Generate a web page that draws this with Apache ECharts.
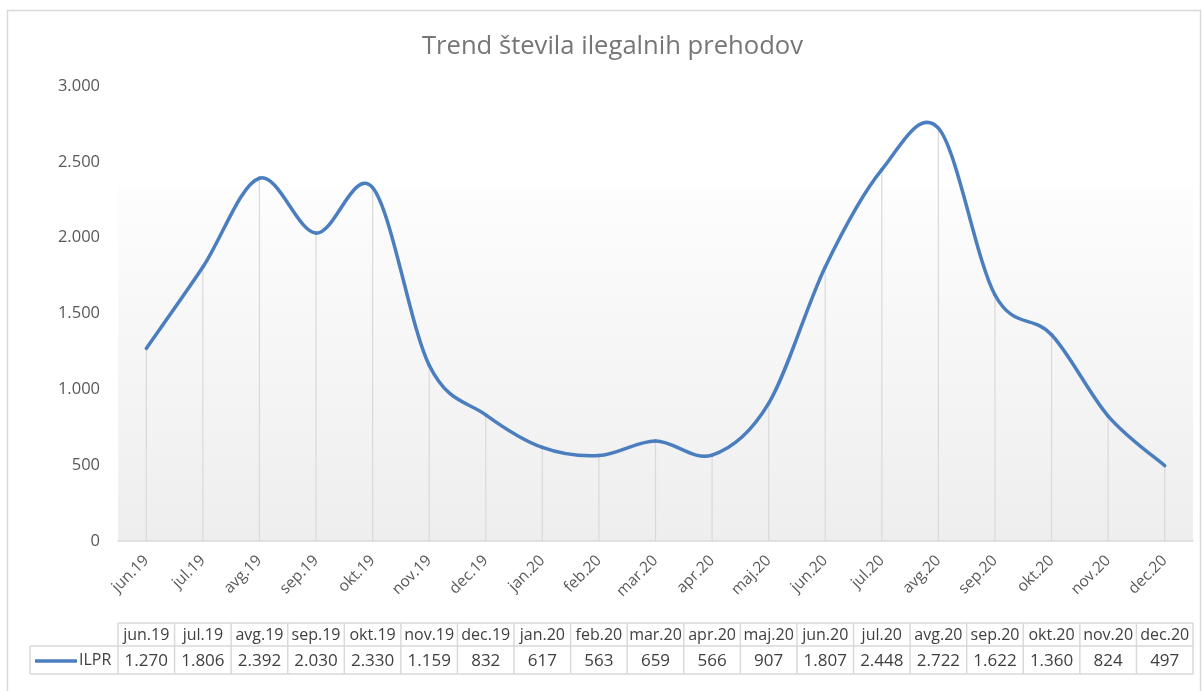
<!DOCTYPE html>
<html>
<head>
<meta charset="utf-8">
<script src="https://cdn.jsdelivr.net/npm/echarts@6/dist/echarts.min.js"></script>
<style>
html,body{margin:0;padding:0;background:#fff;}
#c{width:1203px;height:691px;}
</style>
</head>
<body>
<div id="c"></div>
<script>
const titleText = 'Trend števila ilegalnih prehodov';
const seriesName = 'ILPR';
const categories = ['jun.19','jul.19','avg.19','sep.19','okt.19','nov.19','dec.19','jan.20','feb.20','mar.20','apr.20','maj.20','jun.20','jul.20','avg.20','sep.20','okt.20','nov.20','dec.20'];
const values = [1270,1806,2392,2030,2330,1159,832,617,563,659,566,907,1807,2448,2722,1622,1360,824,497];
const yMin = 0, yMax = 3000, yStep = 500;

const fmt = v => String(v).replace(/\B(?=(\d{3})+(?!\d))/g, '.');
const FONT = '"Open Sans", "Noto Sans", sans-serif';
const LINE_COLOR = '#4a7ebf';
const GRID_COLOR = '#d9d9d9';

const chart = echarts.init(document.getElementById('c'), null, {renderer: 'canvas'});
const grid = {left: 118, right: 10, top: 86, bottom: 150};

// Smooth curve segment i -> i+1 (Catmull-Rom style, like spreadsheet smoothing)
function renderSegment(params, api) {
  const i = params.dataIndex;
  if (i >= values.length - 1) return null;
  const n = values.length;
  const P = k => { const j = Math.max(0, Math.min(n - 1, k)); return api.coord([j, values[j]]); };
  const p0 = P(i - 1), p1 = P(i), p2 = P(i + 1), p3 = P(i + 2);
  const t = 1 / 6;
  const c1 = [p1[0] + (p2[0] - p0[0]) * t, p1[1] + (p2[1] - p0[1]) * t];
  const c2 = [p2[0] - (p3[0] - p1[0]) * t, p2[1] - (p3[1] - p1[1]) * t];
  return {
    type: 'bezierCurve',
    shape: {x1: p1[0], y1: p1[1], x2: p2[0], y2: p2[1], cpx1: c1[0], cpy1: c1[1], cpx2: c2[0], cpy2: c2[1]},
    style: {stroke: LINE_COLOR, lineWidth: 3.5, fill: null, lineCap: 'round'}
  };
}

chart.setOption({
  backgroundColor: '#fff',
  animation: false,
  title: {
    text: titleText, left: 417, top: 29,
    textStyle: {fontFamily: FONT, fontSize: 25.6, fontWeight: 'normal', color: '#767676'}
  },
  grid: grid,
  xAxis: {
    type: 'category', data: categories, boundaryGap: true,
    axisLine: {lineStyle: {color: GRID_COLOR, width: 1.5}},
    axisTick: {show: false},
    axisLabel: {rotate: 45, color: '#595959', fontFamily: FONT, fontSize: 15.5, margin: 17, interval: 0}
  },
  yAxis: {
    type: 'value', min: yMin, max: yMax, interval: yStep,
    axisLine: {show: false}, axisTick: {show: false},
    splitLine: {show: false},
    axisLabel: {color: '#595959', fontFamily: FONT, fontSize: 16.5, margin: 18, formatter: v => fmt(v)}
  },
  series: [
    {
      type: 'bar', data: values, barWidth: 1.2, silent: true, z: 1,
      itemStyle: {color: GRID_COLOR}
    },
    {
      name: seriesName, type: 'custom', data: values, renderItem: renderSegment, z: 3, silent: true
    }
  ]
});

const xs = categories.map((c, i) => chart.convertToPixel({xAxisIndex: 0}, i));
const step = xs.length > 1 ? xs[1] - xs[0] : 56;
const left = xs[0] - step / 2;
const right = xs[xs.length - 1] + step / 2;
const y0 = chart.convertToPixel({yAxisIndex: 0}, yMin);
const gradTop = chart.convertToPixel({yAxisIndex: 0}, 2335);

const hTop = 623, hMid = 646, hBot = 674, legLeft = 30;
const g = [];
g.push({
  type: 'rect', z: -1, silent: true,
  shape: {x: left, y: gradTop, width: right - left, height: y0 - gradTop},
  style: {fill: new echarts.graphic.LinearGradient(0, 0, 0, 1, [{offset: 0, color: '#fdfdfd'}, {offset: 1, color: '#eeeeee'}])}
});
g.push({
  type: 'rect', silent: true,
  shape: {x: 7.5, y: 10.5, width: 1193, height: 690},
  style: {fill: null, stroke: GRID_COLOR, lineWidth: 1.5}
});
const L = (x1, y1, x2, y2) => g.push({type: 'line', silent: true, shape: {x1, y1, x2, y2}, style: {stroke: GRID_COLOR, lineWidth: 1.5}});
L(left, hTop, right, hTop);
L(legLeft, hMid, right, hMid);
L(legLeft, hBot, right, hBot);
L(legLeft, hMid, legLeft, hBot);
for (let i = 0; i <= categories.length; i++) {
  const x = left + i * step;
  L(x, hTop, x, hBot);
}
categories.forEach((c, i) => {
  g.push({type: 'text', silent: true, style: {text: c, x: xs[i], y: (hTop + hMid) / 2 + 1, align: 'center', verticalAlign: 'middle', fontFamily: FONT, fontSize: 16, fill: '#404040'}});
  g.push({type: 'text', silent: true, style: {text: fmt(values[i]), x: xs[i], y: (hMid + hBot) / 2 + 1, align: 'center', verticalAlign: 'middle', fontFamily: FONT, fontSize: 17, fill: '#404040'}});
});
g.push({type: 'line', silent: true, shape: {x1: 35, y1: 661, x2: 77, y2: 661}, style: {stroke: LINE_COLOR, lineWidth: 3.5}});
g.push({type: 'text', silent: true, style: {text: seriesName, x: 79, y: 660, align: 'left', verticalAlign: 'middle', fontFamily: FONT, fontSize: 16, fill: '#404040'}});

chart.setOption({graphic: g});
</script>
</body>
</html>
